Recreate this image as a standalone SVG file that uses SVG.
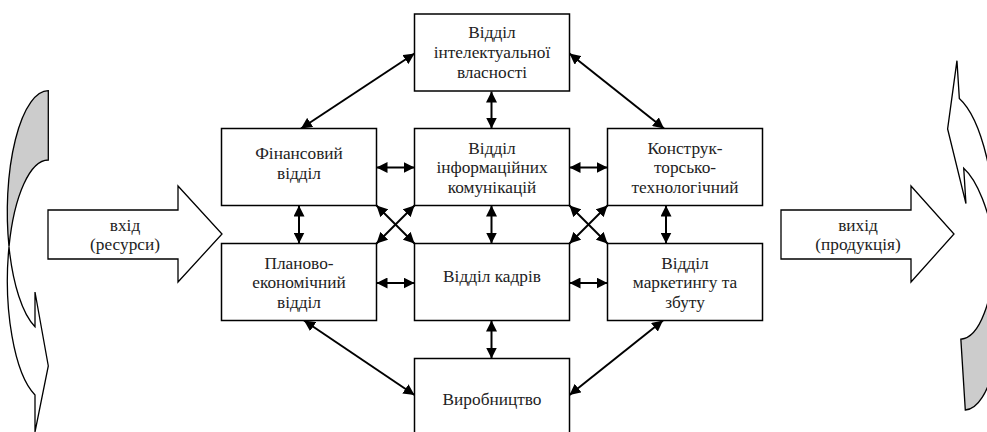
<svg xmlns="http://www.w3.org/2000/svg" xmlns:xlink="http://www.w3.org/1999/xlink" width="987" height="432" viewBox="0 0 987 432">
<style>
.box{fill:#fff;stroke:#000;stroke-width:1.5}
text{font-family:'Liberation Serif','DejaVu Serif',serif;font-size:17.3px;fill:#222;text-anchor:middle}
.c{fill:none;stroke:#000;stroke-width:2;marker-start:url(#ah);marker-end:url(#ah)}
.big{fill:#fff;stroke:#000;stroke-width:1.3;stroke-linejoin:miter}
.back{fill:#cccccc;stroke:#000;stroke-width:1.3}
.front{fill:#fff;stroke:#000;stroke-width:1.3}
</style>
<defs>
<marker id="ah" viewBox="0 0 11 11" refX="11" refY="5.5" markerWidth="11" markerHeight="11" markerUnits="userSpaceOnUse" orient="auto-start-reverse">
<path d="M0,0 L11,5.5 L0,11 z" fill="#000"/>
</marker>
<g id="curved">
<path class="back" d="M48.3,90.7 A41,121.3 0 0 0 9,246.7 A41,121.3 0 0 1 48.3,160 Z"/>
<path class="front" d="M9,246.7 A41,121.3 0 0 0 35,395 L35,432 L48.3,366 L35,292 L35,326.7 A41,121.3 0 0 1 9,246.7 Z"/>
</g>
</defs>

<g id="curved-left"><use xlink:href="#curved"/></g>
<g id="curved-right"><use xlink:href="#curved" transform="translate(965.3,410) rotate(176.4) scale(1.023) translate(-48.3,-90.7)"/></g>

<g id="input" font-family="Liberation Serif, serif">
<path class="big" d="M48,210 L178,210 L178,186 L222,234 L178,282 L178,259 L48,259 Z"/>
<text x="125" y="230.7">вхід</text>
<text x="125" y="250">(ресурси)</text>
</g>
<g id="output">
<path class="big" d="M781,210 L911,210 L911,186 L954,234 L911,282 L911,259 L781,259 Z"/>
<text x="858" y="230.7">вихід</text>
<text x="858" y="250">(продукція)</text>
</g>

<g id="connectors">
<line class="c" x1="414.5" y1="53.5" x2="301" y2="128.5"/>
<line class="c" x1="569.5" y1="53.5" x2="664" y2="128.5"/>
<line class="c" x1="491.5" y1="91.5" x2="491.5" y2="128.5"/>
<line class="c" x1="376.5" y1="167.5" x2="414.5" y2="167.5"/>
<line class="c" x1="569.5" y1="167.5" x2="607.5" y2="167.5"/>
<line class="c" x1="299" y1="205.5" x2="299" y2="243.5"/>
<line class="c" x1="491.5" y1="205.5" x2="491.5" y2="243.5"/>
<line class="c" x1="666" y1="205.5" x2="666" y2="243.5"/>
<line class="c" x1="376.5" y1="205.5" x2="414.5" y2="243.5"/>
<line class="c" x1="414.5" y1="205.5" x2="376.5" y2="243.5"/>
<line class="c" x1="569.5" y1="205.5" x2="607.5" y2="243.5"/>
<line class="c" x1="607.5" y1="205.5" x2="569.5" y2="243.5"/>
<line class="c" x1="376.5" y1="283" x2="414.5" y2="283"/>
<line class="c" x1="569.5" y1="283" x2="607.5" y2="283"/>
<line class="c" x1="304" y1="320.5" x2="414.5" y2="395"/>
<line class="c" x1="663" y1="320.5" x2="569.5" y2="395"/>
<line class="c" x1="491.5" y1="320.5" x2="491.5" y2="358.5"/>
</g>

<g id="ip">
<rect class="box" x="414.5" y="14" width="155" height="77"/>
<text x="492" y="38.3">Відділ</text>
<text x="492" y="58">інтелектуальної</text>
<text x="492" y="77.7">власності</text>
</g>
<g id="finance">
<rect class="box" x="221.5" y="128.5" width="155" height="77"/>
<text x="299" y="159">Фінансовий</text>
<text x="299" y="179">відділ</text>
</g>
<g id="infocomm">
<rect class="box" x="414.5" y="128.5" width="155" height="77"/>
<text x="492" y="153.5">Відділ</text>
<text x="492" y="173.2">інформаційних</text>
<text x="492" y="192.9">комунікацій</text>
</g>
<g id="design">
<rect class="box" x="607.5" y="128.5" width="155" height="77"/>
<text x="685" y="153.5">Конструк-</text>
<text x="685" y="173.2">торсько-</text>
<text x="685" y="192.9">технологічний</text>
</g>
<g id="planning">
<rect class="box" x="221.5" y="243.5" width="155" height="77"/>
<text x="299" y="268.5">Планово-</text>
<text x="299" y="288.2">економічний</text>
<text x="299" y="307.9">відділ</text>
</g>
<g id="hr">
<rect class="box" x="414.5" y="243.5" width="155" height="77"/>
<text x="492" y="282">Відділ кадрів</text>
</g>
<g id="marketing">
<rect class="box" x="607.5" y="243.5" width="155" height="77"/>
<text x="685" y="268.5">Відділ</text>
<text x="685" y="288.2">маркетингу та</text>
<text x="685" y="307.9">збуту</text>
</g>
<g id="production">
<rect class="box" x="414.5" y="358.5" width="155" height="77"/>
<text x="492" y="405">Виробництво</text>
</g>
</svg>
